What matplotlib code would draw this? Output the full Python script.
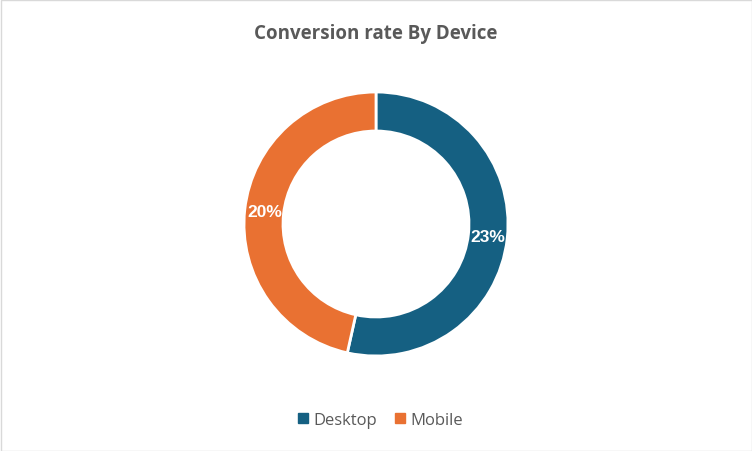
import matplotlib.pyplot as plt
from matplotlib.lines import Line2D
from matplotlib.patches import Rectangle

devices = ["Desktop", "Mobile"]
conversion = [23, 20]
labels = ["23%", "20%"]
colors = ["#156082", "#E97132"]

fig = plt.figure(figsize=(7.52, 4.52), dpi=100)
ax = fig.add_axes([0, 0, 1, 1])

wedges, texts = ax.pie(conversion, labels=labels, colors=colors, startangle=90,
                       counterclock=False, center=(376, 452 - 225), radius=132,
                       labeldistance=112 / 132,
                       wedgeprops=dict(width=39, edgecolor="white", linewidth=2),
                       textprops=dict(color="white", fontsize=12.5, fontweight="bold",
                                      family="Liberation Sans"))
for t in texts:
    t.set_ha("center")
    t.set_va("center")

# pie resets the limits, so set them afterwards
ax.set_xlim(0, 752)
ax.set_ylim(0, 452)
ax.set_aspect("equal")
ax.axis("off")

fig.text(0.5, 1 - 34 / 452, "Conversion rate By Device", ha="center", va="center",
         fontsize=13.5, fontweight="bold", color="#595959", family="Open Sans")

handles = [Line2D([], [], marker="s", linestyle="none", markersize=7,
                  markerfacecolor=c, markeredgecolor=c) for c in colors]
fig.legend(handles, devices, loc="center", bbox_to_anchor=(378 / 752, 1 - 421 / 452),
           ncol=2, frameon=False, handletextpad=0.0, columnspacing=0.8,
           handlelength=1.2, prop=dict(family="Open Sans", size=12), labelcolor="#595959")

fig.patches.append(Rectangle((0.5 / 752, 0.5 / 452), 751 / 752, 451 / 452,
                             transform=fig.transFigure, fill=False,
                             edgecolor="#D9D9D9", linewidth=1))

fig.savefig("out.png", dpi=100)
